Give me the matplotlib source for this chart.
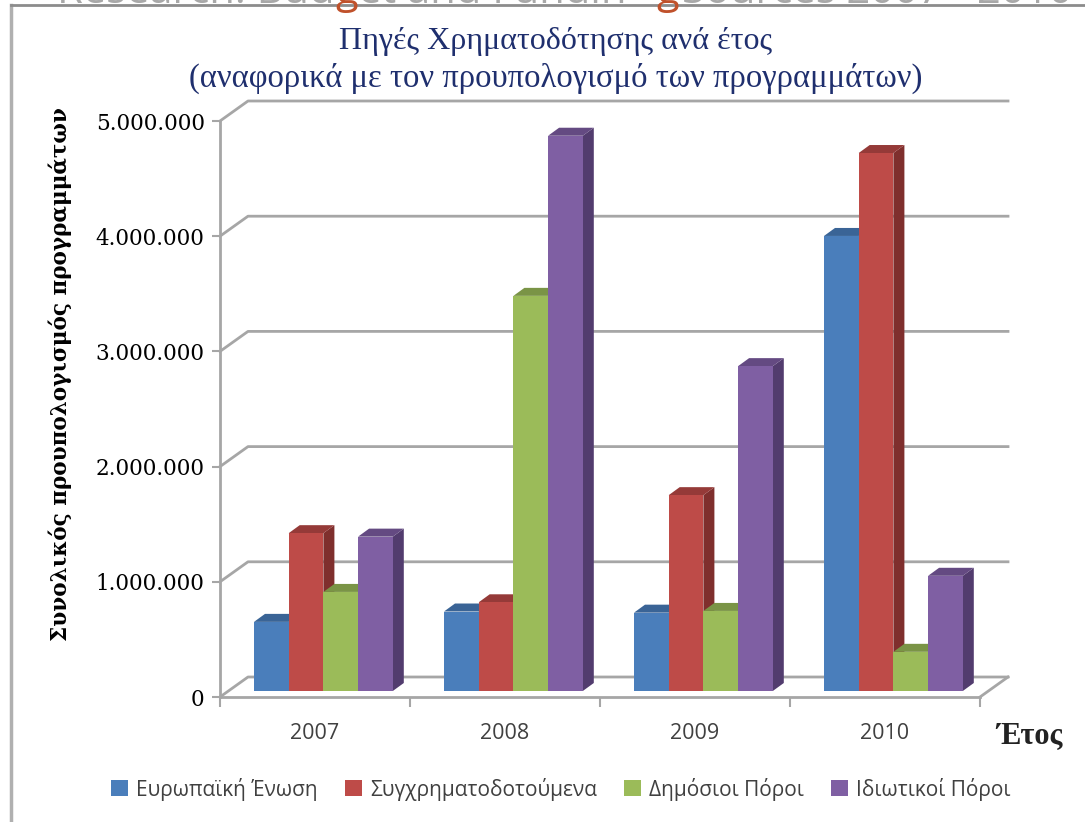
import numpy as np
import matplotlib
matplotlib.use('Agg')
import matplotlib.pyplot as plt
from matplotlib.lines import Line2D
from matplotlib.patches import Polygon
from matplotlib.ticker import FuncFormatter

W, H = 1085, 822

years = ['2007', '2008', '2009', '2010']
series_names = ['Ευρωπαϊκή Ένωση', 'Συγχρηματοδοτούμενα', 'Δημόσιοι Πόροι', 'Ιδιωτικοί Πόροι']
eu = [600000, 690000, 680000, 3950000]
cofund = [1370000, 770000, 1700000, 4670000]
public = [860000, 3430000, 695000, 340000]
private = [1340000, 4820000, 2820000, 1000000]
values = [eu, cofund, public, private]
front_colors = ['#4a7ebb', '#be4b48', '#9bbb59', '#7f5fa3']
top_colors = ['#3a6496', '#953a38', '#7a9446', '#644a82']
side_colors = ['#33577f', '#7f2f2d', '#67803b', '#523c6e']
grid_color = '#a6a6a6'
y_ticks = [0, 1000000, 2000000, 3000000, 4000000, 5000000]


def px_axes(fig, left, right, top, bottom):
    return fig.add_axes([left / W, 1 - bottom / H, (right - left) / W, (bottom - top) / H])


fig = plt.figure(figsize=(W / 100, H / 100), dpi=100)
ax = px_axes(fig, 220, 980, 121, 697)
ax.set_xlim(0, 4)
ax.set_ylim(0, 5000000)
ux = 4 / 760
uy = 5000000 / 576

# back wall and floor, offset from the front plane
back_x, back_y = 28 * ux, 20 * uy
for v in y_ticks:
    ax.plot([0, back_x, 4 + back_x], [v, v + back_y, v + back_y], color=grid_color, lw=2, clip_on=False, zorder=1)
ax.plot([4, 4 + back_x], [0, back_y], color=grid_color, lw=2, clip_on=False, zorder=1)

# bars with their top and side faces
bar_w = 34.7 * ux
depth_x, depth_y = 11 * ux, 8 * uy
plane_x, plane_y = 34 * ux, 6 * uy
for c in range(4):
    for s in range(4):
        x0 = c + plane_x + s * bar_w
        h = values[s][c]
        y0 = plane_y
        ax.add_patch(Polygon([(x0 + bar_w, y0), (x0 + bar_w + depth_x, y0 + depth_y),
                              (x0 + bar_w + depth_x, y0 + h + depth_y), (x0 + bar_w, y0 + h)],
                             fc=side_colors[s], ec='none', clip_on=False, zorder=2 + s))
        ax.add_patch(Polygon([(x0, y0 + h), (x0 + depth_x, y0 + h + depth_y),
                              (x0 + bar_w + depth_x, y0 + h + depth_y), (x0 + bar_w, y0 + h)],
                             fc=top_colors[s], ec='none', clip_on=False, zorder=2 + s))
        ax.bar(x0, h, bar_w, bottom=y0, align='edge', color=front_colors[s], clip_on=False, zorder=2 + s)

for side in ['top', 'right']:
    ax.spines[side].set_visible(False)
for side in ['left', 'bottom']:
    ax.spines[side].set_color(grid_color)
    ax.spines[side].set_linewidth(2)
ax.set_yticks(y_ticks)
ax.yaxis.set_major_formatter(FuncFormatter(lambda v, p: f'{int(v):,}'.replace(',', '.')))
ax.tick_params(axis='y', length=6, width=1.5, color=grid_color, pad=5, labelsize=15.5, labelfontfamily='DejaVu Serif')
ax.set_xticks(range(5))
ax.set_xticklabels([])
ax.set_xticks(np.arange(4) + 0.5, years, minor=True)
ax.tick_params(axis='x', which='major', length=7, width=1.5, color=grid_color)
ax.tick_params(axis='x', which='minor', length=0, pad=19, labelsize=15.5, labelcolor='#404040')
for t in ax.get_xticklabels(minor=True):
    t.set_fontfamily('Open Sans')

fig.text(556 / W, 1 - 42 / H, 'Πηγές Χρηματοδότησης ανά έτος', ha='center', va='center',
         fontsize=23, color='#1f2f6e', family='Liberation Serif')
fig.text(556 / W, 1 - 78 / H, '(αναφορικά με τον προυπολογισμό των προγραμμάτων)', ha='center', va='center',
         fontsize=23.5, color='#1f2f6e', family='Liberation Serif')
fig.text(60 / W, 1 - 374 / H, 'Συνολικός προυπολογισμός προγραμμάτων', rotation=90, ha='center', va='center',
         fontsize=15.5, fontweight='bold', family='DejaVu Serif')
fig.text(1029 / W, 1 - 736 / H, 'Έτος', ha='center', va='center', fontsize=22, fontweight='bold',
         family='Liberation Serif', color='#222222')

# slide frame and the cut off heading above the chart
fig.add_artist(Line2D([11 / W, 11 / W], [0, 1 - 5 / H], color='#b0b0b0', lw=2.5))
fig.add_artist(Line2D([11 / W, 1], [1 - 5 / H, 1 - 5 / H], color='#8c8c8c', lw=2))
head_y = 1 - 3 / H
fig.text(335 / W, head_y, 'Research: Bud', ha='right', va='baseline', fontsize=30, color='#a8a8a8', family='Open Sans')
fig.text(335 / W, head_y, 'g', ha='left', va='baseline', fontsize=30, color='#c0512b', family='Open Sans')
fig.text(358 / W, head_y, 'et and Fundin', ha='left', va='baseline', fontsize=30, color='#a8a8a8', family='Open Sans')
fig.text(656 / W, head_y, 'g', ha='left', va='baseline', fontsize=30, color='#c0512b', family='Open Sans')
fig.text(682 / W, head_y, 'Sources 2007 - 2010', ha='left', va='baseline', fontsize=30, color='#a8a8a8', family='Open Sans')

handles = [plt.Rectangle((0, 0), 1, 1, fc=c, ec='none') for c in front_colors]
fig.legend(handles, series_names, loc='center', bbox_to_anchor=(561 / W, 1 - 789 / H), ncol=4, frameon=False,
           prop={'family': 'Open Sans', 'size': 15}, labelcolor='#404040', handlelength=0.8, handleheight=0.8,
           handletextpad=0.4, columnspacing=1.3)

fig.savefig('out.png', dpi=100)
